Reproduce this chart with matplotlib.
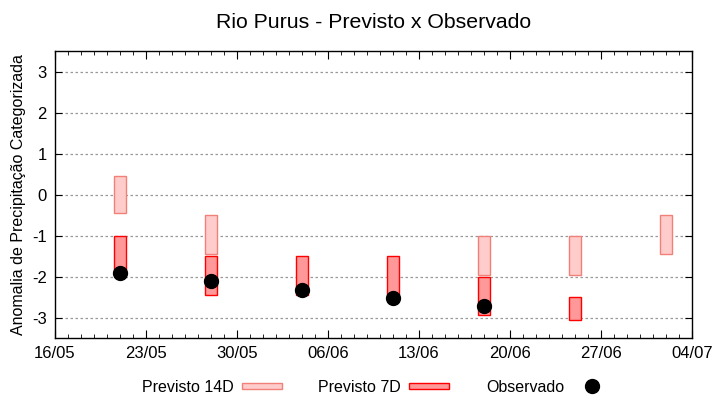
import matplotlib
matplotlib.use("Agg")
import matplotlib.pyplot as plt
import matplotlib.dates as mdates
from matplotlib.patches import Rectangle
from matplotlib.lines import Line2D
from matplotlib.legend_handler import HandlerPatch
import numpy as np
import datetime as dt

plt.rcParams['font.family'] = ['Liberation Sans', 'DejaVu Sans']

# ---- data ----
dates_14d = ["2023-05-21", "2023-05-28", "2023-06-18", "2023-06-25", "2023-07-02"]
top_14d = [0.45, -0.5, -1.0, -1.0, -0.5]
bot_14d = [-0.45, -1.45, -1.95, -1.95, -1.45]

dates_7d = ["2023-05-21", "2023-05-28", "2023-06-04", "2023-06-11", "2023-06-18", "2023-06-25"]
top_7d = [-1.0, -1.5, -1.5, -1.5, -2.0, -2.5]
bot_7d = [-1.9, -2.45, -2.45, -2.45, -2.95, -3.05]

dates_obs = ["2023-05-21", "2023-05-28", "2023-06-04", "2023-06-11", "2023-06-18"]
obs = [-1.9, -2.1, -2.32, -2.52, -2.72]

xmin, xmax = "2023-05-16", "2023-07-04"
yticks = [-3, -2, -1, 0, 1, 2, 3]

title = "Rio Purus - Previsto x Observado"
ylabel = "Anomalia de Precipitação Categorizada"

def todate(s):
    return dt.datetime.strptime(s, "%Y-%m-%d")

d14 = [todate(s) for s in dates_14d]
d7 = [todate(s) for s in dates_7d]
dob = [todate(s) for s in dates_obs]

fig = plt.figure(figsize=(7.2, 4.0), dpi=100)
ax = fig.add_axes([55/720, 62/400, (692-55)/720, (338-51.5)/400])

c14_face, c14_edge = "#ffcccc", "#f08078"
c7_face, c7_edge = "#ff9999", "#ff0000"

ax.bar(d14, np.array(top_14d) - np.array(bot_14d), bottom=bot_14d, width=0.9,
       color=c14_face, edgecolor=c14_edge, linewidth=1.0, zorder=3)
ax.bar(d7, np.array(top_7d) - np.array(bot_7d), bottom=bot_7d, width=0.9,
       color=c7_face, edgecolor=c7_edge, linewidth=1.0, zorder=4)
ax.plot(dob, obs, 'o', color='black', markersize=10, zorder=5, linestyle='none')

ax.set_xlim(todate(xmin), todate(xmax))
ax.set_ylim(-3.5, 3.5)
ax.set_yticks(yticks)
ax.set_yticklabels([str(v) for v in yticks])
ticks = [todate(xmin) + dt.timedelta(days=7*i) for i in range(8)]
ax.set_xticks(ticks)
ax.xaxis.set_major_formatter(mdates.DateFormatter("%d/%m"))
ax.xaxis.set_minor_locator(mdates.DayLocator())

ax.tick_params(axis='both', which='both', direction='in', top=True, right=True,
               labelsize=12, colors='black')
ax.tick_params(axis='x', which='major', length=6, pad=6)
ax.tick_params(axis='x', which='minor', length=3)
ax.tick_params(axis='y', which='major', length=5, pad=6)
ax.yaxis.grid(True, color='#999999', linestyle=(0, (2, 2)), linewidth=0.9, zorder=0)
ax.set_axisbelow(True)
for s in ax.spines.values():
    s.set_linewidth(1.0)
    s.set_color('black')

ax.set_ylabel(ylabel, fontsize=11.5, labelpad=4)
ax.set_title(title, fontsize=15.3, pad=17)

class ThinPatch(HandlerPatch):
    def __init__(self, **kw):
        def f(legend, orig_handle, xdescent, ydescent, width, height, fontsize):
            h = height * 0.55
            return Rectangle((-xdescent, -ydescent + (height - h) / 2), width, h)
        super().__init__(patch_func=f, **kw)

h14 = Rectangle((0, 0), 1, 1, facecolor=c14_face, edgecolor=c14_edge, linewidth=1.0)
h7 = Rectangle((0, 0), 1, 1, facecolor=c7_face, edgecolor=c7_edge, linewidth=1.0)
hob = Line2D([], [], marker='o', color='black', linestyle='none', markersize=10)
fig.legend([h14, h7, hob], ["Previsto 14D", "Previsto 7D", "Observado"],
           loc='center', bbox_to_anchor=(377/720, 13/400), ncol=3, frameon=False,
           markerfirst=False, fontsize=11.5, handlelength=2.5, handletextpad=0.5,
           columnspacing=2.3,
           handler_map={Rectangle: ThinPatch()})

fig.savefig("out.png", dpi=100)
